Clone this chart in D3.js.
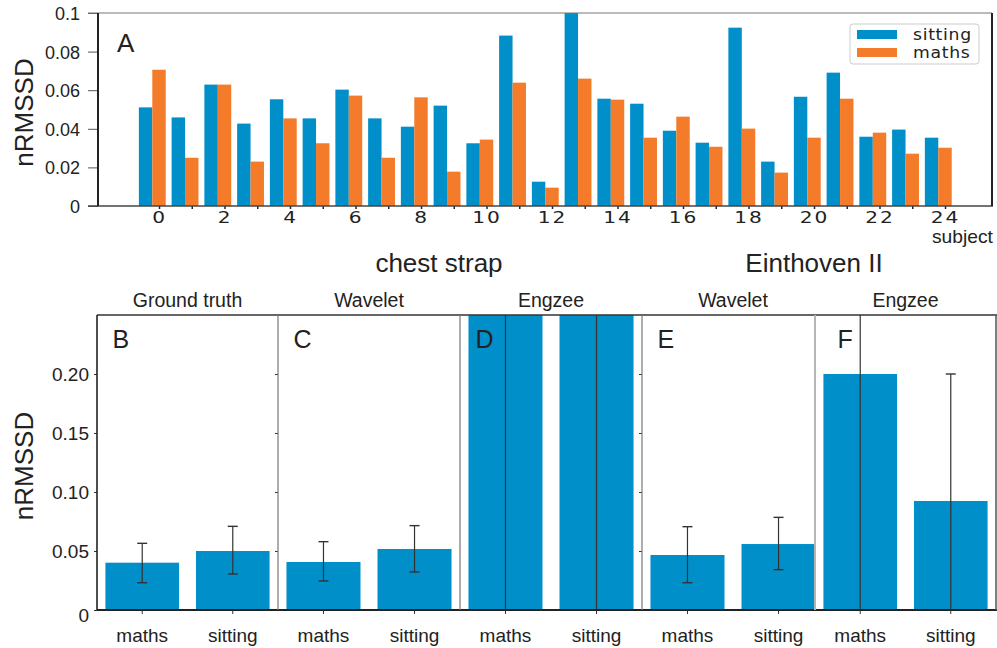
<!DOCTYPE html>
<html>
<head>
<meta charset="utf-8">
<script src="https://cdn.jsdelivr.net/npm/d3@7"></script>
<style>
  body { margin: 0; background: #fff; }
  svg { display: block; }
  text { fill: #222; }
</style>
</head>
<body>
<svg id="chart" width="997" height="648"></svg>
<script>
// ---------------- DATA ----------------
const subjects = [0,1,2,3,4,5,6,7,8,9,10,11,12,13,14,15,16,17,18,19,20,21,22,23,24];
const sittingValues = [0.0511,0.0459,0.0629,0.0427,0.0553,0.0454,0.0603,0.0454,0.0411,0.0520,0.0325,0.0883,0.0126,0.1000,0.0556,0.0530,0.0390,0.0328,0.0924,0.0230,0.0566,0.0691,0.0359,0.0396,0.0354];
const mathsValues   = [0.0706,0.0250,0.0629,0.0230,0.0454,0.0325,0.0572,0.0250,0.0563,0.0178,0.0344,0.0639,0.0095,0.0660,0.0551,0.0354,0.0463,0.0307,0.0401,0.0173,0.0354,0.0556,0.0380,0.0271,0.0302];
const topYTicks = [0, 0.02, 0.04, 0.06, 0.08, 0.1];
const topYTickLabels = ["0", "0.02", "0.04", "0.06", "0.08", "0.1"];
const legendLabels = ["sitting", "maths"];

const panelLetters = ["B", "C", "D", "E", "F"];
const panelTitles = ["Ground truth", "Wavelet", "Engzee", "Wavelet", "Engzee"];
const groupTitles = ["chest strap", "Einthoven II"];
const conditions = ["maths", "sitting"];
const meanMaths      = [0.0401, 0.0407, 0.45, 0.0466, 0.200];
const meanSitting    = [0.0500, 0.0517, 0.45, 0.0559, 0.0924];
const errLowMaths    = [0.0231, 0.0246, -0.20, 0.0231, -0.10];
const errHighMaths   = [0.0565, 0.0579, 1.00, 0.0706, 0.50];
const errLowSitting  = [0.0305, 0.0322, -0.20, 0.0342, -0.05];
const errHighSitting = [0.0709, 0.0715, 1.00, 0.0785, 0.200];
const botYTicks = [0, 0.05, 0.10, 0.15, 0.20];
const botYTickLabels = ["0", "0.05", "0.10", "0.15", "0.20"];

// ---------------- STYLE ----------------
const BLUE = "#008fc8", ORANGE = "#f47b2a", DARK = "#222";
const ARIAL = "'Liberation Sans', Arial, sans-serif";
const DEJAVU = "'DejaVu Sans', sans-serif";

const svg = d3.select("#chart");

// ================= TOP CHART (A) =================
const tL = 98, tR = 992, tTop = 13, tBot = 206;
const xTop = d3.scaleLinear().domain([-1.863, 25.435]).range([tL, tR]);
const yTop = d3.scaleLinear().domain([0, 0.1]).range([tBot, tTop]);
const bw = 0.41;

const gTop = svg.append("g");
const rows = subjects.map((s, i) => ({ s, sit: sittingValues[i], mat: mathsValues[i] }));

gTop.selectAll("rect.sit").data(rows).join("rect")
  .attr("x", d => xTop(d.s - 1.5 * bw))
  .attr("width", d => xTop(d.s - 0.5 * bw) - xTop(d.s - 1.5 * bw))
  .attr("y", d => yTop(d.sit))
  .attr("height", d => yTop(0) - yTop(d.sit))
  .attr("fill", BLUE);
gTop.selectAll("rect.mat").data(rows).join("rect")
  .attr("x", d => xTop(d.s - 0.5 * bw))
  .attr("width", d => xTop(d.s + 0.5 * bw) - xTop(d.s - 0.5 * bw))
  .attr("y", d => yTop(d.mat))
  .attr("height", d => yTop(0) - yTop(d.mat))
  .attr("fill", ORANGE);

// y axis
const yAxT = gTop.append("g").attr("transform", `translate(${tL},0)`)
  .call(d3.axisLeft(yTop).tickValues(topYTicks).tickSize(10).tickPadding(8)
    .tickFormat((d, i) => topYTickLabels[i]));
yAxT.select(".domain").remove();
yAxT.selectAll(".tick line").attr("stroke", "#555").attr("stroke-width", 1);
yAxT.selectAll(".tick text").attr("font-family", ARIAL).attr("font-size", 18)
  .attr("fill", DARK).attr("dy", "0.36em");

// x axis
const xAxT = gTop.append("g").attr("transform", `translate(0,${tBot})`)
  .call(d3.axisBottom(xTop).tickValues(subjects).tickSize(3)
    .tickFormat(d => d % 2 === 0 ? String(d) : ""));
xAxT.select(".domain").remove();
xAxT.selectAll(".tick line").attr("stroke", DARK).attr("stroke-width", 1.5);
xAxT.selectAll(".tick text").attr("font-family", DEJAVU).attr("font-size", 15.5)
  .attr("y", 17.5).attr("dy", 0).attr("fill", DARK)
  .attr("letter-spacing", 1.5)
  .attr("transform", "scale(1.3,1)");

// frame
gTop.append("line").attr("x1", 88).attr("x2", tR).attr("y1", tTop).attr("y2", tTop)
  .attr("stroke", "#777").attr("stroke-width", 1.2);
gTop.append("line").attr("x1", 88).attr("x2", tR + 1).attr("y1", tBot).attr("y2", tBot)
  .attr("stroke", "#444").attr("stroke-width", 1.4);
gTop.append("line").attr("x1", tL).attr("x2", tL).attr("y1", tTop).attr("y2", tBot)
  .attr("stroke", DARK).attr("stroke-width", 2);
gTop.append("line").attr("x1", tR).attr("x2", tR).attr("y1", tTop).attr("y2", tBot)
  .attr("stroke", DARK).attr("stroke-width", 2);

// labels
gTop.append("text").attr("x", 117).attr("y", 52).attr("font-family", ARIAL)
  .attr("font-size", 26).text("A");
gTop.append("text").attr("transform", `translate(33,${(tTop + tBot) / 2 + 3}) rotate(-90)`)
  .attr("text-anchor", "middle").attr("font-family", ARIAL).attr("font-size", 26).text("nRMSSD");
gTop.append("text").attr("x", 932).attr("y", 243).attr("font-family", ARIAL)
  .attr("font-size", 17.5).attr("transform", "translate(932,0) scale(1.1,1) translate(-932,0)")
  .text("subject");

// legend
const leg = gTop.append("g");
leg.append("rect").attr("x", 850).attr("y", 24).attr("width", 129).attr("height", 40)
  .attr("rx", 3).attr("fill", "#fff").attr("stroke", "#ccc").attr("stroke-width", 1);
[BLUE, ORANGE].forEach((c, i) => {
  leg.append("rect").attr("x", 857).attr("y", 30 + i * 18).attr("width", 40).attr("height", 9).attr("fill", c);
  leg.append("text").attr("x", 913).attr("y", 40 + i * 18).attr("font-family", DEJAVU)
    .attr("font-size", 15).attr("letter-spacing", 0.6)
    .attr("transform", `translate(913,0) scale(1.15,1) translate(-913,0)`)
    .text(legendLabels[i]);
});

// ================= BOTTOM PANELS =================
const bTop = 315, bBot = 610;
const yBot = d3.scaleLinear().domain([0, 0.25]).range([bBot, bTop]);
const panelRanges = [[97, 278], [278, 460], [460, 642], [642, 824], [815, 996]];
const defs = svg.append("defs");

// group titles
svg.append("text").attr("x", 439).attr("y", 272).attr("text-anchor", "middle")
  .attr("font-family", ARIAL).attr("font-size", 26).text(groupTitles[0]);
svg.append("text").attr("x", 814).attr("y", 272).attr("text-anchor", "middle")
  .attr("font-family", ARIAL).attr("font-size", 26).text(groupTitles[1]);

panelLetters.forEach((L, p) => {
  const r = panelRanges[p];
  const xb = d3.scaleBand().domain(conditions).range(r).paddingInner(0.187).paddingOuter(0.093);
  const g = svg.append("g");
  defs.append("clipPath").attr("id", "clip" + p).append("rect")
    .attr("x", r[0]).attr("y", bTop).attr("width", r[1] - r[0]).attr("height", bBot - bTop);
  const gc = g.append("g").attr("clip-path", `url(#clip${p})`);
  const recs = [
    { c: "maths", m: meanMaths[p], lo: errLowMaths[p], hi: errHighMaths[p] },
    { c: "sitting", m: meanSitting[p], lo: errLowSitting[p], hi: errHighSitting[p] }
  ];
  gc.selectAll("rect").data(recs).join("rect")
    .attr("x", d => xb(d.c)).attr("width", xb.bandwidth())
    .attr("y", d => yBot(d.m)).attr("height", d => yBot(0) - yBot(d.m))
    .attr("fill", BLUE);
  recs.forEach(d => {
    const cx = xb(d.c) + xb.bandwidth() / 2;
    gc.append("line").attr("x1", cx).attr("x2", cx).attr("y1", yBot(d.lo)).attr("y2", yBot(d.hi))
      .attr("stroke", "#333").attr("stroke-width", 1.2);
    [d.lo, d.hi].forEach(v => {
      if (v >= 0 && v <= 0.25) {
        gc.append("line").attr("x1", cx - 5).attr("x2", cx + 5).attr("y1", yBot(v)).attr("y2", yBot(v))
          .attr("stroke", "#333").attr("stroke-width", 1.4);
      }
    });
  });

  // x axis ticks + labels
  const xa = g.append("g").attr("transform", `translate(0,${bBot})`)
    .call(d3.axisBottom(xb).tickSize(4));
  xa.select(".domain").remove();
  xa.selectAll(".tick line").attr("stroke", "#333");
  xa.selectAll(".tick text").attr("font-family", ARIAL).attr("font-size", 19)
    .attr("y", 32).attr("dy", 0).attr("fill", DARK);

  // y ticks at panel left edge
  if (p !== 2 && p !== 4) {
    const ya = g.append("g").attr("transform", `translate(${r[0]},0)`)
      .call(d3.axisLeft(yBot).tickValues(botYTicks).tickSize(3).tickPadding(5)
        .tickFormat((d, i) => p === 0 ? botYTickLabels[i] : ""));
    ya.select(".domain").remove();
    ya.selectAll(".tick line").attr("stroke", "#333");
    ya.selectAll(".tick text").attr("font-family", ARIAL).attr("font-size", 19).attr("fill", DARK)
      .attr("dy", (d) => d === 0 ? "0.62em" : "0.36em");
  }

  // panel title and letter
  svg.append("text").attr("x", (xb("maths") + xb("sitting") + xb.bandwidth()) / 2).attr("y", 307)
    .attr("text-anchor", "middle").attr("font-family", ARIAL).attr("font-size", 19.5)
    .text(panelTitles[p]);
  svg.append("text").attr("x", xb("maths") + 7 + (p === 4 ? 7 : 0)).attr("y", 348)
    .attr("font-family", ARIAL).attr("font-size", 25).text(L);
});

// bottom frame
const fr = svg.append("g");
fr.append("line").attr("x1", 97).attr("x2", 997).attr("y1", bTop).attr("y2", bTop)
  .attr("stroke", "#333").attr("stroke-width", 1.5);
fr.append("line").attr("x1", 97).attr("x2", 997).attr("y1", bBot).attr("y2", bBot)
  .attr("stroke", "#222").attr("stroke-width", 2);
fr.append("line").attr("x1", 97).attr("x2", 97).attr("y1", bTop).attr("y2", bBot)
  .attr("stroke", "#222").attr("stroke-width", 1.6);
fr.append("line").attr("x1", 996).attr("x2", 996).attr("y1", bTop).attr("y2", bBot)
  .attr("stroke", "#555").attr("stroke-width", 1.5);
[278, 460, 642].forEach(x => {
  fr.append("line").attr("x1", x).attr("x2", x).attr("y1", bTop).attr("y2", bBot)
    .attr("stroke", "#777").attr("stroke-width", 1.2);
});
fr.append("line").attr("x1", 815).attr("x2", 815).attr("y1", bTop).attr("y2", bBot)
  .attr("stroke", "#b5b5b5").attr("stroke-width", 2);

// bottom y label
svg.append("text").attr("transform", `translate(33,466) rotate(-90)`)
  .attr("text-anchor", "middle").attr("font-family", ARIAL).attr("font-size", 26).text("nRMSSD");
</script>
</body>
</html>
